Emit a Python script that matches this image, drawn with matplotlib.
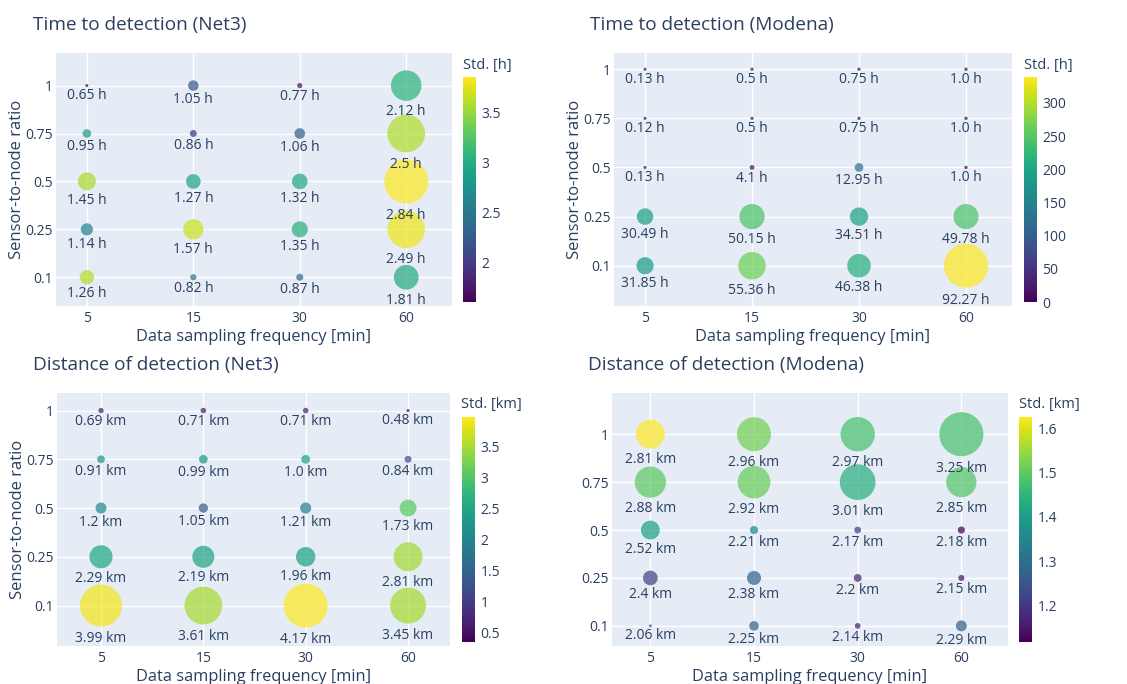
import matplotlib.pyplot as plt
import numpy as np
from matplotlib.ticker import MultipleLocator, FuncFormatter
from matplotlib.cm import ScalarMappable
from matplotlib.colors import Normalize

plt.rcParams['font.family'] = ['Open Sans', 'DejaVu Sans']
TXT = '#2a3f5f'

freq = ['5', '15', '30', '60']
ratio = ['0.1', '0.25', '0.5', '0.75', '1']

# rows follow ratio (0.1 -> 1), columns follow freq (5 -> 60)
time_net3_mean = [[1.26, 0.82, 0.87, 1.81],
                  [1.14, 1.57, 1.35, 2.49],
                  [1.45, 1.27, 1.32, 2.84],
                  [0.95, 0.86, 1.06, 2.5],
                  [0.65, 1.05, 0.77, 2.12]]
time_net3_std = [[3.60, 2.47, 2.40, 3.00],
                 [2.62, 3.68, 3.03, 3.80],
                 [3.57, 2.92, 2.96, 3.86],
                 [2.85, 1.95, 2.30, 3.59],
                 [1.61, 2.24, 1.72, 3.07]]

time_modena_mean = [[31.85, 55.36, 46.38, 92.27],
                    [30.49, 50.15, 34.51, 49.78],
                    [0.13, 4.1, 12.95, 1.0],
                    [0.12, 0.5, 0.75, 1.0],
                    [0.13, 0.5, 0.75, 1.0]]
time_modena_std = [[186, 265, 214, 339],
                   [193, 244, 197, 244],
                   [3, 15, 128, 8],
                   [0, 6, 9, 12],
                   [1, 6, 9, 12]]

dist_net3_mean = [[3.99, 3.61, 4.17, 3.45],
                  [2.29, 2.19, 1.96, 2.81],
                  [1.2, 1.05, 1.21, 1.73],
                  [0.91, 0.99, 1.0, 0.84],
                  [0.69, 0.71, 0.71, 0.48]]
dist_net3_std = [[3.90, 3.50, 3.97, 3.50],
                 [2.52, 2.48, 2.45, 3.46],
                 [2.05, 1.43, 1.90, 3.06],
                 [2.23, 2.23, 2.45, 1.25],
                 [0.70, 0.70, 0.70, 0.34]]

dist_modena_mean = [[2.06, 2.25, 2.14, 2.29],
                    [2.4, 2.38, 2.2, 2.15],
                    [2.52, 2.21, 2.17, 2.18],
                    [2.88, 2.92, 3.01, 2.85],
                    [2.81, 2.96, 2.97, 3.25]]
dist_modena_std = [[1.25, 1.285, 1.16, 1.27],
                   [1.22, 1.28, 1.17, 1.15],
                   [1.41, 1.35, 1.21, 1.118],
                   [1.50, 1.51, 1.44, 1.49],
                   [1.625, 1.52, 1.48, 1.48]]

W, H = 1127, 684
fig = plt.figure(figsize=(W / 100, H / 100), dpi=100)


def box(l, t, r, b):
    return [l / W, 1 - b / H, (r - l) / W, (b - t) / H]


def panel(mean, std, unit, title, cbtitle, rect, cbrect, xlim, ylim, tick_step,
          title_xy, cbt_xy, ylabel=True):
    mean = np.array(mean, dtype=float)
    std = np.array(std, dtype=float)
    ax = fig.add_axes(box(*rect))
    ax.set_facecolor('#E5ECF6')
    for s in ax.spines.values():
        s.set_visible(False)
    ax.set_xticks(range(len(freq)))
    ax.set_xticklabels(freq)
    ax.set_yticks(range(len(ratio)))
    ax.set_yticklabels(ratio)
    ax.tick_params(length=0, labelsize=10, labelcolor=TXT)
    ax.tick_params(axis='x', pad=3.5)
    ax.tick_params(axis='y', pad=2)
    ax.grid(color='white', lw=1)
    ax.set_axisbelow(True)
    ax.set_xlim(*xlim)
    ax.set_ylim(*ylim)

    vmin, vmax = std.min(), std.max()
    d = 3 + 41 * (mean - mean.min()) / (mean.max() - mean.min())
    xx, yy = np.meshgrid(np.arange(len(freq)), np.arange(len(ratio)))
    ax.scatter(xx.ravel(), yy.ravel(), s=(d.ravel() * 0.72) ** 2, c=std.ravel(),
               cmap='viridis', vmin=vmin, vmax=vmax, alpha=0.72, lw=0, zorder=3)
    for i in range(len(ratio)):
        for j in range(len(freq)):
            off = (d[i, j] / 2 * 1.2 + 8) * 0.72
            ax.annotate(f'{mean[i, j]} {unit}', (j, i), xytext=(0, -off),
                        textcoords='offset points', ha='center', va='center',
                        fontsize=10, color=TXT, zorder=4)

    ax.set_xlabel('Data sampling frequency [min]', fontsize=11.75, color=TXT, labelpad=2)
    if ylabel:
        ax.set_ylabel('Sensor-to-node ratio', fontsize=12, color=TXT, labelpad=0.5)
    fig.text(title_xy[0] / W, 1 - title_xy[1] / H, title, fontsize=13.7, color=TXT,
             ha='left', va='center')

    cax = fig.add_axes(box(*cbrect))
    sm = ScalarMappable(norm=Normalize(vmin, vmax), cmap='viridis')
    cb = fig.colorbar(sm, cax=cax)
    cb.outline.set_visible(False)
    cb.locator = MultipleLocator(tick_step)
    cb.formatter = FuncFormatter(lambda v, p: f'{v:g}')
    cb.update_ticks()
    cax.tick_params(length=0, labelsize=10, labelcolor=TXT, pad=4)
    fig.text(cbt_xy[0] / W, 1 - cbt_xy[1] / H, cbtitle, fontsize=10.5, color=TXT,
             ha='left', va='center')


panel(time_net3_mean, time_net3_std, 'h', 'Time to detection (Net3)', 'Std. [h]',
      (56, 53, 452, 306), (463, 77, 476, 302), (-0.29, 3.43), (-0.6, 4.68), 0.5,
      (33, 25), (463, 65))
panel(time_modena_mean, time_modena_std, 'h', 'Time to detection (Modena)', 'Std. [h]',
      (614, 53, 1012, 306), (1024, 77, 1037, 302), (-0.29, 3.43), (-0.82, 4.33), 50,
      (590, 25), (1024, 65))
panel(dist_net3_mean, dist_net3_std, 'km', 'Distance of detection (Net3)', 'Std. [km]',
      (57, 393, 450, 646), (462, 417, 475, 642), (-0.43, 3.41), (-0.83, 4.36), 0.5,
      (33, 365), (461, 405))
panel(dist_modena_mean, dist_modena_std, 'km', 'Distance of detection (Modena)', 'Std. [km]',
      (612, 393, 1008, 646), (1019, 417, 1032, 642), (-0.37, 3.45), (-0.42, 4.86), 0.1,
      (588, 365), (1019, 405), ylabel=False)

fig.savefig('out.png', dpi=100)
